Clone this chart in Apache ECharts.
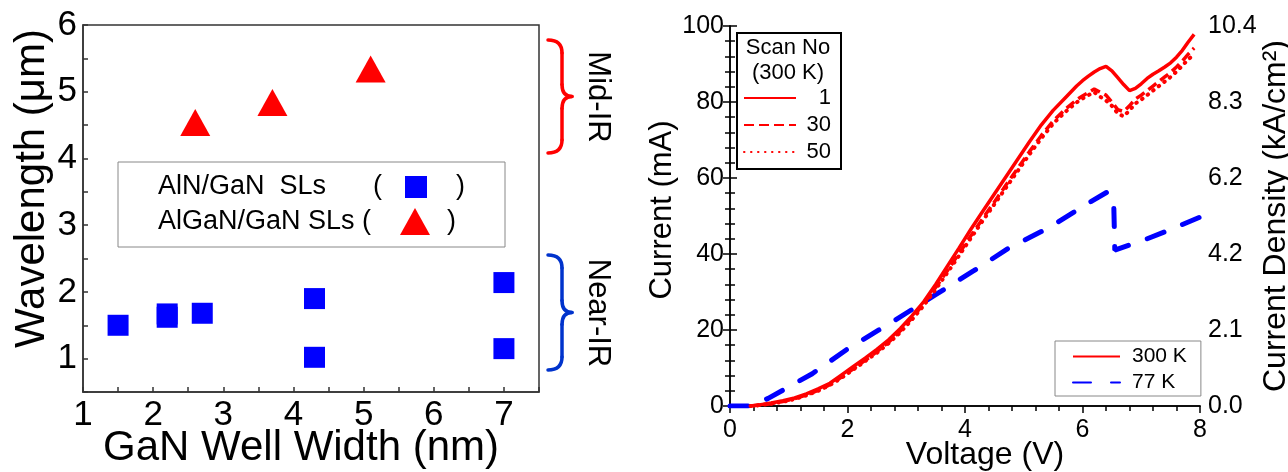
<!DOCTYPE html>
<html>
<head>
<meta charset="utf-8">
<title>Wavelength vs well width and I-V curves</title>
<script src="https://cdn.jsdelivr.net/npm/echarts@6/dist/echarts.min.js"></script>
<style>
  html, body { margin: 0; padding: 0; background: #fff; }
  #chart { width: 1288px; height: 472px; }
</style>
</head>
<body>
<div id="chart"></div>
<script>
// left panel: emission wavelength vs GaN well width
var alnWidth = [1.5, 2.2, 2.2, 2.7, 4.3, 4.3, 7.0, 7.0];
var alnWave = [1.5, 1.62, 1.67, 1.68, 1.9, 1.02, 2.14, 1.15];
var alganWidth = [2.6, 3.7, 5.1];
var alganWave = [4.54, 4.84, 5.34];

// right panel: I-V, 300 K scans share one voltage sweep
var scanVolt = [0.35, 0.5, 0.7, 0.9, 1.1, 1.3, 1.5, 1.7, 1.9, 2.1,
  2.3, 2.5, 2.7, 2.9, 3.1, 3.3, 3.5, 3.7, 3.9, 4.1,
  4.3, 4.5, 4.7, 4.9, 5.1, 5.3, 5.5, 5.7, 5.9, 6.0,
  6.1, 6.2, 6.3, 6.4, 6.5, 6.6, 6.7, 6.8, 6.9, 7.0,
  7.1, 7.2, 7.3, 7.4, 7.5, 7.6, 7.7, 7.8, 7.9];
var scan1 = [0, 0.3, 0.8, 1.4, 2.1, 3.2, 4.5, 6.0, 8.2, 10.4,
  12.6, 14.9, 17.4, 20.4, 23.8, 27.5, 32.0, 36.8, 41.6, 46.5,
  51.2, 55.8, 60.4, 65.0, 69.6, 74.0, 77.8, 81.0, 84.2, 85.6,
  86.8, 87.9, 88.8, 89.4, 88.2, 86.4, 84.6, 83.0, 83.6, 84.8,
  86.2, 87.3, 88.2, 89.2, 90.3, 91.8, 93.6, 95.8, 97.8];
var scan30 = [0, 0.2, 0.6, 1.2, 1.9, 2.9, 4.1, 5.6, 7.6, 9.8,
  12.0, 14.3, 16.8, 19.8, 23.2, 27.0, 31.2, 35.6, 40.2, 44.8,
  49.3, 53.7, 58.2, 62.6, 67.0, 71.2, 75.0, 78.0, 80.6, 81.6,
  82.5, 83.4, 82.6, 81.8, 80.0, 78.0, 77.5, 79.0, 80.8, 81.8,
  83.0, 84.2, 85.4, 86.6, 87.8, 89.2, 90.8, 92.6, 94.2];
var scan50 = [0, 0.2, 0.6, 1.1, 1.8, 2.8, 4.0, 5.5, 7.4, 9.6,
  11.8, 14.0, 16.5, 19.4, 22.8, 26.5, 30.7, 35.1, 39.6, 44.2,
  48.7, 53.1, 57.5, 61.9, 66.3, 70.5, 74.3, 77.3, 79.9, 80.9,
  81.8, 82.6, 81.4, 80.4, 79.0, 77.0, 76.2, 77.8, 79.6, 80.6,
  81.8, 83.0, 84.2, 85.4, 86.6, 88.0, 89.6, 91.2, 92.6];
var volt77 = [0, 0.35, 0.65, 1.4, 2.0, 2.8, 3.5, 4.15, 4.73, 5.45, 6.09, 6.42, 6.53, 6.55, 7.1, 7.46, 8.0];
var curr77 = [0, 0, 2.0, 8.5, 15.0, 22.5, 29.3, 35.6, 41.4, 47.1, 53.3, 56.3, 54.5, 41.0, 44.0, 46.2, 49.7];

var densityLabels = ['0.0', '2.1', '4.2', '6.2', '8.3', '10.4'];

var FONT = "'Liberation Sans', Arial, sans-serif";
var RED = '#ff0000';
var BLUE = '#0000ff';

function pairs(xs, ys) {
  return xs.map(function (x, i) { return [x, ys[i]]; });
}

// curly brace "}" built from two lines and four quadratic curves
function brace(yTop, yBot, color) {
  var x0 = 548, xs = 562, xp = 572, r = 13;
  var yMid = (yTop + yBot) / 2;
  var st = { fill: 'none', stroke: color, lineWidth: 3.5, lineCap: 'round' };
  return [
    { type: 'bezierCurve', shape: { x1: x0, y1: yTop, cpx1: xs, cpy1: yTop, x2: xs, y2: yTop + r }, style: st },
    { type: 'line', shape: { x1: xs, y1: yTop + r, x2: xs, y2: yMid - 12 }, style: st },
    { type: 'bezierCurve', shape: { x1: xs, y1: yMid - 12, cpx1: xs, cpy1: yMid, x2: xp, y2: yMid }, style: st },
    { type: 'bezierCurve', shape: { x1: xp, y1: yMid, cpx1: xs, cpy1: yMid, x2: xs, y2: yMid + 12 }, style: st },
    { type: 'line', shape: { x1: xs, y1: yMid + 12, x2: xs, y2: yBot - r }, style: st },
    { type: 'bezierCurve', shape: { x1: xs, y1: yBot - r, cpx1: xs, cpy1: yBot, x2: x0, y2: yBot }, style: st }
  ];
}

var chart = echarts.init(document.getElementById('chart'), null, { renderer: 'canvas' });

var frameLeft = { lineStyle: { color: '#333', width: 1.5 } };
var frameRight = { lineStyle: { color: '#000', width: 1.5 } };

var graphics = [
  // left legend box
  { type: 'rect', shape: { x: 118, y: 162, width: 387, height: 85 }, style: { fill: '#fff', stroke: '#888', lineWidth: 1 }, z: 10 },
  { type: 'text', x: 158, y: 187, z: 11, style: { text: 'AlN/GaN  SLs', font: '27px ' + FONT, fill: '#000', textVerticalAlign: 'middle' } },
  { type: 'text', x: 373, y: 187, z: 11, style: { text: '(', font: '27px ' + FONT, fill: '#000', textVerticalAlign: 'middle' } },
  { type: 'rect', z: 11, shape: { x: 405, y: 176, width: 22, height: 22 }, style: { fill: BLUE } },
  { type: 'text', x: 456, y: 187, z: 11, style: { text: ')', font: '27px ' + FONT, fill: '#000', textVerticalAlign: 'middle' } },
  { type: 'text', x: 158, y: 222, z: 11, style: { text: 'AlGaN/GaN SLs (', font: '27px ' + FONT, fill: '#000', textVerticalAlign: 'middle' } },
  { type: 'polygon', z: 11, shape: { points: [[415, 208], [430, 235], [400, 235]] }, style: { fill: RED } },
  { type: 'text', x: 447, y: 222, z: 11, style: { text: ')', font: '27px ' + FONT, fill: '#000', textVerticalAlign: 'middle' } },
  { type: 'text', x: 598, y: 97, rotation: -Math.PI / 2,
    style: { text: 'Mid-IR', font: '31px ' + FONT, fill: '#000', textAlign: 'center', textVerticalAlign: 'middle' } },
  { type: 'text', x: 598, y: 313, rotation: -Math.PI / 2,
    style: { text: 'Near-IR', font: '31px ' + FONT, fill: '#000', textAlign: 'center', textVerticalAlign: 'middle' } },
  // scan legend heading
  { type: 'text', x: 788, y: 48, z: 20, style: { text: 'Scan No', font: '22px ' + FONT, fill: '#000', textAlign: 'center', textVerticalAlign: 'middle' } },
  { type: 'text', x: 788, y: 73, z: 20, style: { text: '(300 K)', font: '22px ' + FONT, fill: '#000', textAlign: 'center', textVerticalAlign: 'middle' } }
].concat(brace(40, 153, RED), brace(255, 370, '#0033cc'));

var legendIconHide = { color: 'rgba(0,0,0,0)', borderWidth: 0 };

chart.setOption({
  animation: false,
  backgroundColor: '#fff',
  textStyle: { fontFamily: FONT },
  grid: [
    { left: 83, top: 25, width: 456, height: 367, outerBoundsMode: 'none', show: true, borderColor: '#333', borderWidth: 1.5 },
    { left: 730, top: 26, width: 470, height: 380, outerBoundsMode: 'none' }
  ],
  xAxis: [
    {
      gridIndex: 0, type: 'value', min: 1, max: 7.5, interval: 0.5,
      axisLine: frameLeft,
      axisTick: { inside: true, length: 5, lineStyle: { color: '#333', width: 1.5 } },
      splitLine: { show: false },
      axisLabel: {
        fontSize: 35, color: '#000', margin: 6, fontFamily: FONT,
        formatter: function (v) { return (v % 1 === 0 && v < 7.5) ? String(v) : ''; }
      },
      name: 'GaN Well Width (nm)', nameLocation: 'middle', nameGap: 35, nameMoveOverlap: false,
      nameTextStyle: { fontSize: 42, color: '#000', fontFamily: FONT, padding: [0, 20, 0, 0] }
    },
    {
      gridIndex: 1, type: 'value', min: 0, max: 8, interval: 2,
      axisLine: frameRight,
      axisTick: { inside: false, length: 7, lineStyle: { color: '#000', width: 1.5 } },
      minorTick: { show: true, splitNumber: 5, length: 5, lineStyle: { color: '#000', width: 1.5 } },
      splitLine: { show: false },
      axisLabel: { fontSize: 25, color: '#000', margin: 12, fontFamily: FONT },
      name: 'Voltage (V)', nameLocation: 'middle', nameGap: 33, nameMoveOverlap: false,
      nameTextStyle: { fontSize: 32, color: '#000', fontFamily: FONT, padding: [0, 0, 0, 40] }
    },
    {
      gridIndex: 1, type: 'value', position: 'top', min: 0, max: 8, interval: 2,
      axisLine: frameRight,
      axisTick: { inside: true, length: 6, lineStyle: { color: '#000', width: 1.5 } },
      minorTick: { show: true, splitNumber: 5, length: 4, lineStyle: { color: '#000', width: 1.5 } },
      splitLine: { show: false },
      axisLabel: { show: false }
    }
  ],
  yAxis: [
    {
      gridIndex: 0, type: 'value', min: 0.5, max: 6, interval: 0.5,
      axisLine: frameLeft,
      axisTick: { inside: true, length: 5, lineStyle: { color: '#333', width: 1.5 } },
      splitLine: { show: false },
      axisLabel: {
        fontSize: 35, color: '#000', margin: 6, fontFamily: FONT,
        formatter: function (v) { return v % 1 === 0 ? String(v) : ''; }
      },
      name: 'Wavelength (\u03bcm)', nameLocation: 'middle', nameGap: 30, nameRotate: 90,
      nameTextStyle: { fontSize: 42, color: '#000', fontFamily: FONT, padding: [0, 0, 0, 40] }
    },
    {
      gridIndex: 1, type: 'value', min: 0, max: 100, interval: 20,
      axisLine: frameRight,
      axisTick: { inside: false, length: 7, lineStyle: { color: '#000', width: 1.5 } },
      minorTick: { show: true, splitNumber: 5, length: 5, lineStyle: { color: '#000', width: 1.5 } },
      splitLine: { show: false },
      axisLabel: { fontSize: 25, color: '#000', margin: 6, fontFamily: FONT },
      name: 'Current (mA)', nameLocation: 'middle', nameGap: 50, nameRotate: 90,
      nameTextStyle: { fontSize: 31, color: '#000', fontFamily: FONT, padding: [0, 0, 0, 12] }
    },
    {
      gridIndex: 1, type: 'value', position: 'right', min: 0, max: 10.4, interval: 2.08,
      axisLine: frameRight,
      axisTick: { inside: false, length: 7, lineStyle: { color: '#000', width: 1.5 } },
      minorTick: { show: true, splitNumber: 5, length: 5, lineStyle: { color: '#000', width: 1.5 } },
      splitLine: { show: false },
      axisLabel: {
        fontSize: 25, color: '#000', margin: 8, fontFamily: FONT,
        formatter: function (v) { return densityLabels[Math.round(v / 2.08)]; }
      },
      name: 'Current Density (kA/cm\u00b2)', nameLocation: 'middle', nameGap: 52, nameRotate: 90,
      nameTextStyle: { fontSize: 32, color: '#000', fontFamily: FONT }
    }
  ],
  legend: [
    {
      data: ['1', '30', '50'], orient: 'vertical', left: 737, top: 33,
      padding: [54, 10, 6, 6], itemGap: 5, itemWidth: 52, itemHeight: 14,
      borderColor: '#000', borderWidth: 2, selectedMode: false,
      itemStyle: legendIconHide,
      formatter: '{r|{name}}',
      textStyle: {
        color: '#000', fontFamily: FONT, fontSize: 22,
        rich: { r: { width: 30, align: 'right', fontSize: 22, fontFamily: FONT } }
      }
    },
    {
      data: ['300 K', '77 K'], orient: 'vertical', left: 1055, top: 341,
      padding: [5, 14, 3, 17], itemGap: 5, itemWidth: 47, itemHeight: 14,
      borderColor: '#888', borderWidth: 1, selectedMode: false,
      itemStyle: legendIconHide,
      textStyle: { color: '#000', fontFamily: FONT, fontSize: 21, padding: [0, 0, 0, 7] }
    }
  ],
  graphic: graphics,
  series: [
    {
      name: 'AlN/GaN SLs', type: 'scatter', xAxisIndex: 0, yAxisIndex: 0,
      symbol: 'rect', symbolSize: 21, itemStyle: { color: BLUE, opacity: 1 },
      data: pairs(alnWidth, alnWave)
    },
    {
      name: 'AlGaN/GaN SLs', type: 'scatter', xAxisIndex: 0, yAxisIndex: 0,
      symbol: 'triangle', symbolSize: [30, 27], itemStyle: { color: RED, opacity: 1 },
      data: pairs(alganWidth, alganWave)
    },
    {
      name: '77 K', type: 'line', xAxisIndex: 1, yAxisIndex: 1, symbol: 'none',
      lineStyle: { color: BLUE, width: 5, type: [18, 20], cap: 'round' },
      itemStyle: { color: BLUE },
      data: pairs(volt77, curr77)
    },
    {
      name: '50', type: 'line', xAxisIndex: 1, yAxisIndex: 1, symbol: 'none',
      lineStyle: { color: RED, width: 4, type: [0.5, 6.5], cap: 'round' },
      itemStyle: { color: RED },
      data: pairs(scanVolt, scan50)
    },
    {
      name: '30', type: 'line', xAxisIndex: 1, yAxisIndex: 1, symbol: 'none',
      lineStyle: { color: RED, width: 3.5, type: [10, 5] },
      itemStyle: { color: RED },
      data: pairs(scanVolt, scan30)
    },
    {
      name: '1', type: 'line', xAxisIndex: 1, yAxisIndex: 1, symbol: 'none',
      lineStyle: { color: RED, width: 3.5 },
      itemStyle: { color: RED },
      data: pairs(scanVolt, scan1)
    },
    {
      name: '300 K', type: 'line', xAxisIndex: 1, yAxisIndex: 1, symbol: 'none',
      lineStyle: { color: RED, width: 3.5 },
      itemStyle: { color: RED },
      data: []
    }
  ]
});

window.addEventListener('resize', function () {
  chart.resize();
});
</script>
</body>
</html>
